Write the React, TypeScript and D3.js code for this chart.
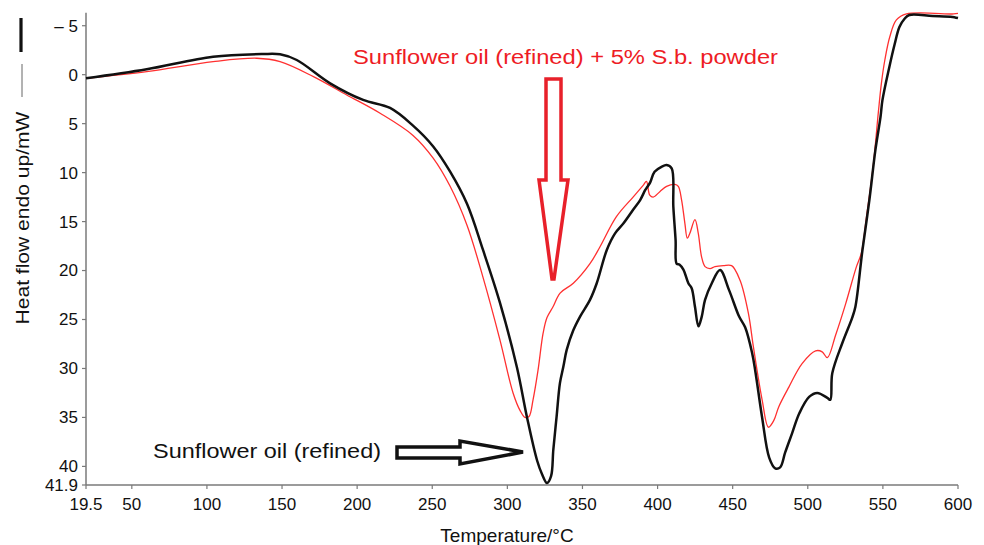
import React from "react";
import * as d3 from "d3";

// DSC curves: temperature (°C) and heat flow (mW, endo up → plotted inverted)
const refinedTemp = [
  19.5, 59.9, 104.1, 137.3, 148.7, 159.8, 182.0, 204.0, 221.9, 237.2, 250.5, 261.9, 273.2,
  283.8, 295.1, 306.4, 313.1, 319.8, 323.1, 326.4, 329.1, 330.6, 332.8, 335.0, 337.3, 339.5,
  343.9, 348.4, 355.0, 359.5, 366.2, 371.7, 377.2, 383.7, 388.4, 391.7, 393.0, 395.1, 398.0,
  402.7, 406.0, 409.4, 410.5, 412.0, 412.7, 414.7, 417.2, 420.5, 422.7, 424.9, 427.2, 429.4,
  431.6, 436.1, 441.6, 447.6, 454.3, 458.3, 462.9, 465.0, 469.6, 474.3, 478.3, 481.6, 484.9,
  489.6, 494.3, 500.9, 506.3, 513.0, 515.0, 516.3, 523.0, 529.6, 531.7, 536.4, 541.0, 545.0,
  548.4, 549.7, 554.3, 557.7, 561.0, 564.3, 567.6, 583.0, 596.3, 600.0,
];
const refinedFlow = [
  0.37, -0.55, -1.84, -2.11, -2.08, -1.5, 0.88, 2.58, 3.4, 5.2, 7.3, 9.9, 13.2,
  17.9, 23.3, 29.9, 35.0, 39.4, 40.8, 41.7, 41.0, 38.3, 34.9, 31.5, 29.8, 28.1,
  26.1, 24.7, 23.0, 21.3, 17.9, 16.2, 15.2, 13.8, 12.8, 11.8, 11.5, 11.0, 9.91,
  9.4, 9.22, 9.56, 13.5, 16.9, 19.3, 19.4, 19.9, 21.3, 21.8, 23.7, 25.7, 24.7,
  23.0, 21.3, 19.95, 22.0, 24.7, 25.8, 28.4, 30.2, 35.0, 39.1, 40.2, 40.1, 38.6,
  36.6, 34.6, 32.9, 32.5, 33.0, 33.2, 30.5, 27.4, 24.8, 23.7, 17.9, 12.8, 7.7,
  4.33, 2.6, -0.79, -3.03, -4.87, -5.69, -6.1, -6.0, -5.9, -5.79,
];

const powderTemp = [
  19.5, 59.9, 104.1, 133.2, 148.7, 170.9, 193.1, 215.3, 237.2, 250.5, 261.9, 273.2, 283.8,
  295.1, 303.8, 308.5, 311.8, 314.4, 317.1, 320.4, 323.8, 326.4, 330.4, 335.1, 343.9, 355.0,
  361.6, 372.6, 383.7, 390.4, 392.6, 394.8, 397.1, 401.5, 406.0, 411.5, 413.8, 416.0, 418.2,
  419.8, 421.5, 424.9, 427.1, 429.3, 431.6, 434.9, 438.2, 443.8, 449.3, 454.9, 460.5, 463.8,
  469.6, 473.8, 477.4, 480.7, 487.4, 496.2, 505.2, 509.6, 513.0, 518.5, 525.2, 532.4, 535.7,
  539.1, 543.5, 547.0, 549.0, 551.3, 554.6, 559.0, 565.7, 597.0, 600.0,
];
const powderFlow = [
  0.37, -0.31, -1.33, -1.68, -1.33, 0.2, 2.07, 3.94, 6.2, 8.5, 11.4, 15.4, 20.7,
  27.1, 32.5, 34.3, 35.0, 34.9, 33.2, 30.2, 26.4, 24.8, 23.7, 22.3, 21.3, 19.3,
  17.6, 14.5, 12.5, 11.3, 10.9, 12.3, 12.5, 11.95, 11.4, 11.2, 11.4, 12.8, 15.2,
  16.7, 16.2, 14.8, 16.2, 18.6, 19.6, 19.8, 19.6, 19.5, 19.5, 21.0, 24.4, 27.8,
  33.2, 36.0, 35.3, 33.9, 31.9, 29.5, 28.2, 28.3, 28.9, 26.6, 23.4, 19.6, 18.2,
  14.5, 9.4, 3.8, 0.88, -1.5, -3.88, -5.59, -6.2, -6.2, -6.25,
];

const xTicks = [19.5, 50, 100, 150, 200, 250, 300, 350, 400, 450, 500, 550, 600];
const yTicks = [-5, 0, 5, 10, 15, 20, 25, 30, 35, 40, 41.9];

const W = 984;
const H = 545;
const FONT = "'Liberation Sans', Arial, Helvetica, sans-serif";
const AXIS = "#7a7a7a";

export default function App() {
  const x = d3.scaleLinear().domain([19.5, 600]).range([86, 958]);
  const y = d3.scaleLinear().domain([-6.33, 41.9]).range([12.7, 485]);

  const line = d3
    .line<[number, number]>()
    .x((d) => x(d[0]))
    .y((d) => y(d[1]))
    .curve(d3.curveCatmullRom.alpha(0.5));

  const refined = line(refinedTemp.map((t, i) => [t, refinedFlow[i]]) as [number, number][]) || "";
  const powder = line(powderTemp.map((t, i) => [t, powderFlow[i]]) as [number, number][]) || "";

  const tickLabel = (v: number) => (v < 0 ? `– ${Math.abs(v)}` : `${v}`);

  return (
    <div style={{ position: "absolute", left: 0, top: 0 }}>
      <svg width={W} height={H} style={{ display: "block", background: "#fff" }}>
        {/* axes */}
        <line x1={x(19.5)} x2={x(19.5)} y1={y(-6.33)} y2={y(41.9)} stroke={AXIS} strokeWidth={1.5} />
        <line x1={x(19.5)} x2={x(600)} y1={y(41.9)} y2={y(41.9)} stroke={AXIS} strokeWidth={1.5} />
        {yTicks.map((v) => (
          <g key={`y${v}`}>
            <line x1={x(19.5) - 4} x2={x(19.5)} y1={y(v)} y2={y(v)} stroke={AXIS} strokeWidth={1.2} />
            <text
              x={x(19.5) - 8}
              y={y(v)}
              dy="0.35em"
              textAnchor="end"
              fontFamily={FONT}
              fontSize={17}
              fill="#111"
            >
              {tickLabel(v)}
            </text>
          </g>
        ))}
        {xTicks.map((v) => (
          <g key={`x${v}`}>
            <line x1={x(v)} x2={x(v)} y1={y(41.9)} y2={y(41.9) + 4} stroke={AXIS} strokeWidth={1.2} />
            <text
              x={x(v)}
              y={y(41.9) + 25}
              textAnchor="middle"
              fontFamily={FONT}
              fontSize={17}
              fill="#111"
            >
              {v}
            </text>
          </g>
        ))}

        {/* axis titles */}
        <text x={507} y={542} textAnchor="middle" fontFamily={FONT} fontSize={19} fill="#111">
          Temperature/°C
        </text>
        <text
          transform="translate(29,218) rotate(-90)"
          textAnchor="middle"
          fontFamily={FONT}
          fontSize={19}
          fill="#111"
          textLength={213}
          lengthAdjust="spacingAndGlyphs"
        >
          Heat flow endo up/mW
        </text>
        {/* series keys beside the y title */}
        <line x1={21} x2={21} y1={18} y2={52} stroke="#111" strokeWidth={3.2} />
        <line x1={22} x2={22} y1={64} y2={97} stroke="#666" strokeWidth={1} />

        {/* curves */}
        <path d={powder} fill="none" stroke="#ff3030" strokeWidth={1.3} />
        <path d={refined} fill="none" stroke="#111" strokeWidth={2.5} strokeLinejoin="round" />

        {/* annotations */}
        <text
          x={353}
          y={64}
          fontFamily={FONT}
          fontSize={20}
          fill="#ee1c25"
          textLength={425}
          lengthAdjust="spacingAndGlyphs"
        >
          Sunflower oil (refined) + 5% S.b. powder
        </text>
        <polygon
          points="546,79 561,79 561,180 568,180 554,279 552,279 539,180 546,180"
          fill="#fff"
          stroke="#e8202a"
          strokeWidth={3.5}
          strokeLinejoin="miter"
        />
        <text
          x={153}
          y={458}
          fontFamily={FONT}
          fontSize={20}
          fill="#111"
          textLength={228}
          lengthAdjust="spacingAndGlyphs"
        >
          Sunflower oil (refined)
        </text>
        <polygon
          points="397,447 460,447 460,441 523,452 460,464 460,458 397,458"
          fill="#fff"
          stroke="#111"
          strokeWidth={3.5}
        />
      </svg>
    </div>
  );
}
